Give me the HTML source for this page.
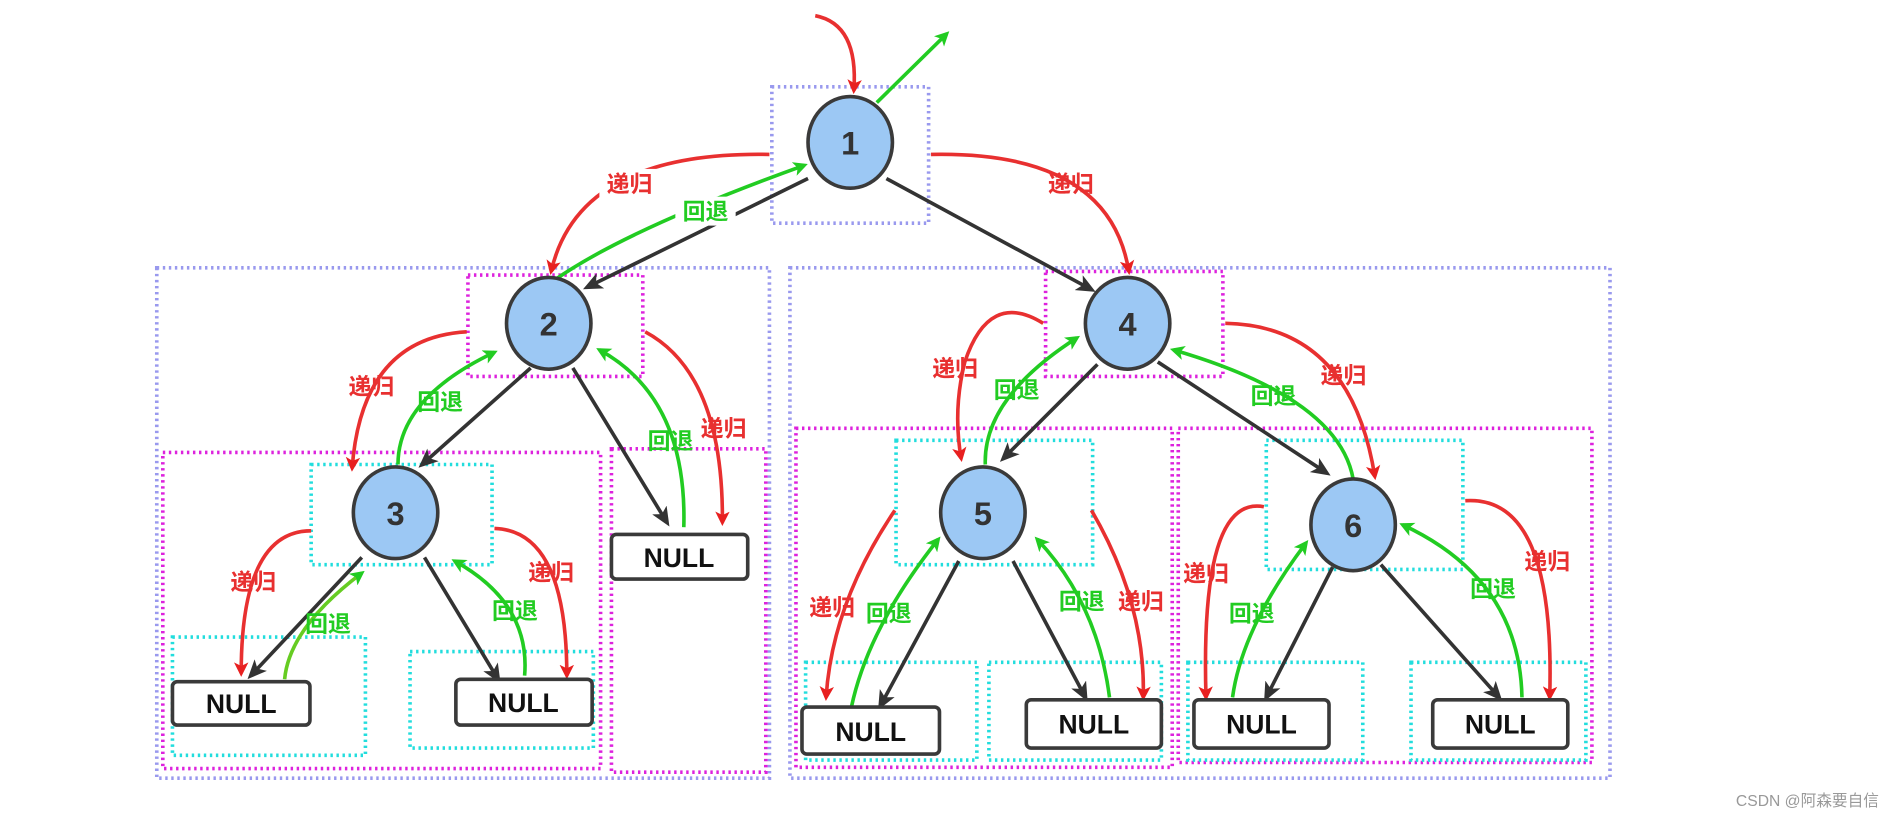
<!DOCTYPE html>
<html><head><meta charset="utf-8"><style>
html,body{margin:0;padding:0;background:#fff;}
svg{display:block}
text{font-family:"Liberation Sans","Noto Sans CJK SC",sans-serif;font-weight:bold}
.lr{fill:#e83030;font-size:19px}
.lg{fill:#22cc22;font-size:19px}
</style></head><body>
<svg width="1891" height="818" viewBox="0 0 1568 678" preserveAspectRatio="none" xmlns="http://www.w3.org/2000/svg">
<defs>
<marker id="ak" markerWidth="16" markerHeight="14" refX="12" refY="7" orient="auto" markerUnits="userSpaceOnUse"><path d="M0,0 L16,7 L0,14 L4,7z" fill="#333"/></marker>
<marker id="ar" markerWidth="12" markerHeight="12" refX="9" refY="6" orient="auto" markerUnits="userSpaceOnUse"><path d="M0,0 L12,6 L0,12 L3,6z" fill="#e82020"/></marker>
<marker id="ag" markerWidth="12" markerHeight="12" refX="9" refY="6" orient="auto" markerUnits="userSpaceOnUse"><path d="M0,0 L12,6 L0,12 L3,6z" fill="#22cc22"/></marker>
</defs>
<g fill="none" stroke-width="3" stroke-dasharray="2,3">
<g stroke="#9999ee">
<rect x="640" y="72" width="130" height="113"/>
<rect x="130" y="222" width="508" height="423"/>
<rect x="655" y="222" width="680" height="423"/>
</g>
<g stroke="#dd22dd">
<rect x="388" y="228" width="145" height="84"/>
<rect x="867" y="225" width="147" height="87"/>
<rect x="135" y="375" width="363" height="262"/>
<rect x="507" y="372" width="128" height="268"/>
<rect x="660" y="355" width="312" height="281"/>
<rect x="977" y="355" width="343" height="277"/>
</g>
<g stroke="#22dddd">
<rect x="258" y="385" width="150" height="83"/>
<rect x="143" y="528" width="160" height="98"/>
<rect x="340" y="540" width="152" height="80"/>
<rect x="743" y="365" width="163" height="103"/>
<rect x="1050" y="365" width="163" height="107"/>
<rect x="668" y="549" width="142" height="81"/>
<rect x="820" y="549" width="143" height="81"/>
<rect x="985" y="549" width="145" height="81"/>
<rect x="1170" y="549" width="145" height="81"/>
</g>
</g>
<g stroke="#333" stroke-width="3" fill="none" marker-end="url(#ak)">
<path d="M670,148 L487,238"/>
<path d="M735,148 L905,240"/>
<path d="M440,305 L350,385"/>
<path d="M475,305 L553,433"/>
<path d="M910,302 L832,380"/>
<path d="M960,300 L1100,392"/>
<path d="M300,462 L208,560"/>
<path d="M352,462 L413,563"/>
<path d="M795,465 L730,585"/>
<path d="M840,465 L900,578"/>
<path d="M1105,470 L1050,578"/>
<path d="M1145,468 L1243,578"/>
</g>
<g stroke="#e83030" stroke-width="3" fill="none" marker-end="url(#ar)">
<path d="M676,13 Q712,20 708,75"/>
<path d="M638,128 Q480,125 457,225"/>
<path d="M772,128 Q920,125 936,225"/>
<path d="M387,275 Q300,280 292,388"/>
<path d="M535,275 Q600,310 599,433"/>
<path d="M865,268 Q820,240 800,300 Q790,340 797,380"/>
<path d="M1016,268 Q1120,270 1140,395"/>
<path d="M258,440 Q200,440 200,558"/>
<path d="M410,438 Q470,440 470,560"/>
<path d="M742,423 Q690,500 685,578"/>
<path d="M905,423 Q950,500 948,578"/>
<path d="M1048,420 Q995,410 1000,578"/>
<path d="M1215,415 Q1290,410 1285,578"/>
</g>
<g stroke="#22cc22" stroke-width="3" fill="none" marker-end="url(#ag)">
<path d="M727,85 L785,28"/>
<path d="M460,232 Q520,190 667,137"/>
<path d="M330,385 Q330,330 410,292"/>
<path d="M567,437 Q570,330 497,290"/>
<path d="M817,385 Q815,330 893,280"/>
<path d="M1122,397 Q1110,330 973,290"/>
<path d="M236,563 Q240,520 300,475" stroke="#66cc22"/>
<path d="M435,560 Q440,500 377,465"/>
<path d="M706,586 Q720,520 778,447"/>
<path d="M920,578 Q910,500 860,447"/>
<path d="M1022,578 Q1030,520 1083,450"/>
<path d="M1262,578 Q1260,480 1163,435"/>
</g>
<g stroke="#3a3a3a" stroke-width="3" fill="#9cc8f4">
<ellipse cx="705" cy="118" rx="35" ry="38"/>
<ellipse cx="455" cy="268" rx="35" ry="38"/>
<ellipse cx="935" cy="268" rx="35" ry="38"/>
<ellipse cx="328" cy="425" rx="35" ry="38"/>
<ellipse cx="815" cy="425" rx="35" ry="38"/>
<ellipse cx="1122" cy="435" rx="35" ry="38"/>
</g>
<g font-size="27" fill="#333" text-anchor="middle" style="font-weight:900">
<text x="705" y="128">1</text><text x="455" y="278">2</text><text x="935" y="278">4</text>
<text x="328" y="435">3</text><text x="815" y="435">5</text><text x="1122" y="445">6</text>
</g>
<g stroke="#3a3a3a" stroke-width="3" fill="#fff">
<rect x="143" y="565" width="114" height="36" rx="4"/>
<rect x="378" y="563" width="113" height="38" rx="4"/>
<rect x="507" y="443" width="113" height="37" rx="4"/>
<rect x="665" y="586" width="114" height="39" rx="4"/>
<rect x="851" y="580" width="112" height="40" rx="4"/>
<rect x="990" y="580" width="112" height="40" rx="4"/>
<rect x="1188" y="580" width="112" height="40" rx="4"/>
</g>
<g font-size="22" fill="#111" text-anchor="middle">
<text x="200" y="591">NULL</text><text x="434" y="590">NULL</text><text x="563" y="470">NULL</text>
<text x="722" y="614">NULL</text><text x="907" y="608">NULL</text><text x="1046" y="608">NULL</text><text x="1244" y="608">NULL</text>
</g>
<g text-anchor="middle">
<rect x="497" y="140" width="50" height="24" fill="#fff"/><text class="lr" x="522" y="159">递归</text>
<rect x="560" y="163" width="50" height="24" fill="#fff"/><text class="lg" x="585" y="182">回退</text>
<text class="lr" x="888" y="159">递归</text>
<text class="lr" x="308" y="327">递归</text>
<text class="lg" x="365" y="340">回退</text>
<text class="lg" x="556" y="372">回退</text>
<text class="lr" x="600" y="362">递归</text>
<text class="lr" x="792" y="312">递归</text>
<text class="lg" x="843" y="330">回退</text>
<text class="lg" x="1056" y="335">回退</text>
<text class="lr" x="1114" y="318">递归</text>
<text class="lr" x="210" y="489">递归</text>
<text class="lg" x="272" y="524">回退</text>
<text class="lr" x="457" y="481">递归</text>
<text class="lg" x="427" y="513">回退</text>
<text class="lr" x="690" y="510">递归</text>
<text class="lg" x="737" y="515">回退</text>
<text class="lg" x="897" y="505">回退</text>
<text class="lr" x="946" y="505">递归</text>
<text class="lr" x="1000" y="482">递归</text>
<text class="lg" x="1038" y="515">回退</text>
<text class="lg" x="1238" y="495">回退</text>
<text class="lr" x="1283" y="472">递归</text>
</g>
<text x="1558" y="668" text-anchor="end" font-size="13" fill="#999" style="font-weight:normal">CSDN @阿森要自信</text>
</svg>
</body></html>
